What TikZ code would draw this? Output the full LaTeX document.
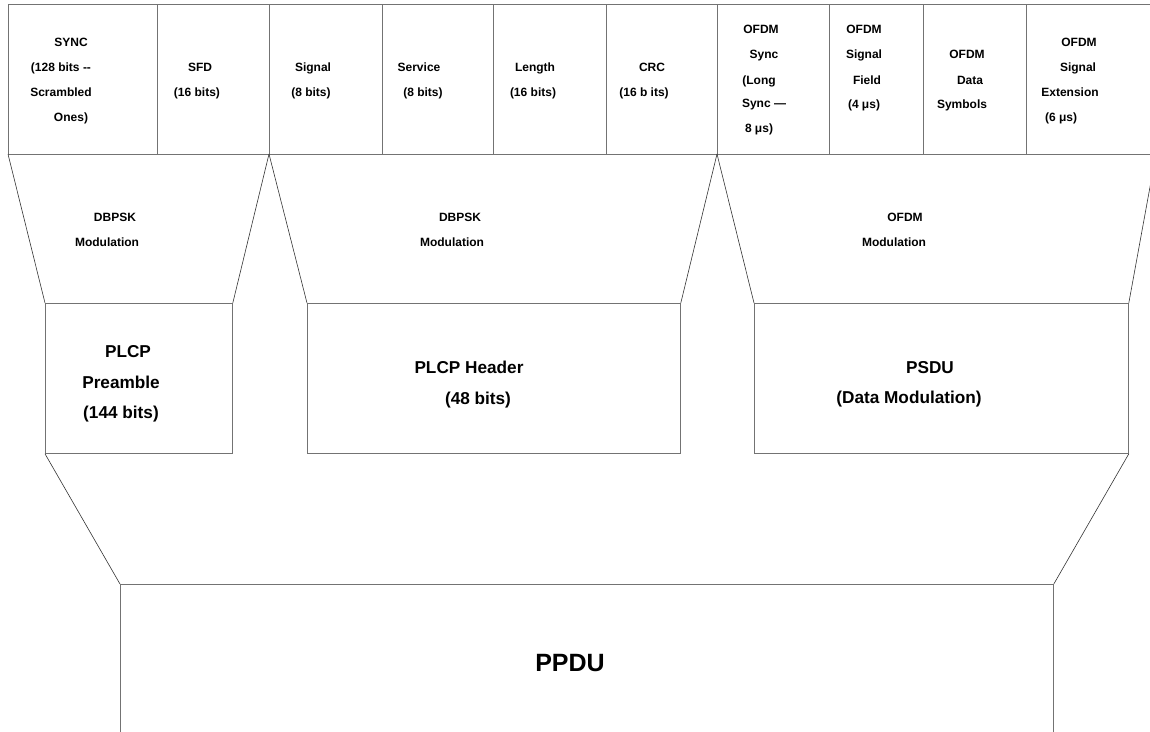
\documentclass[tikz,border=0pt]{standalone}
\usepackage{fontspec}
\setmainfont{Liberation Sans}
\usepackage{tikz}

\tikzset{
    cell/.style={draw=gray!90!black, line width=0.8pt},
    blk/.style={draw=gray!90!black, line width=0.8pt, rectangle, anchor=north west, inner sep=0pt},
    slant/.style={draw=black!80, line width=0.6pt},
    lbl/.style={anchor=base, inner sep=0pt, font=\fontsize{12}{14}\selectfont\bfseries, yshift=-4.3pt},
    big/.style={anchor=base, inner sep=0pt, font=\fontsize{17.2}{20}\selectfont\bfseries, yshift=-6.2pt},
    huge/.style={anchor=base, inner sep=0pt, font=\fontsize{25}{29}\selectfont\bfseries, yshift=-9pt}
}

\begin{document}
\begin{tikzpicture}[x=1pt,y=-1pt]
    \useasboundingbox (0,0) rectangle (1150,731);
    \clip (0,0) rectangle (1150,731);

    % top row of fields
    \draw[cell] (8,4) -- (1170,4);
    \draw[cell] (8,154) -- (1170,154);
    \foreach \xc in {8,157,269,382,493,606,717,829,923,1026}
        \draw[cell] (\xc,4) -- (\xc,154);
    \coordinate (c0) at (8,154);
    \coordinate (c1) at (269,154);
    \coordinate (c2) at (717,154);
    \coordinate (c3) at (1156,154);

    % middle blocks
    \node[blk, minimum width=187pt, minimum height=150pt] (pre) at (45,303) {};
    \node[blk, minimum width=373pt, minimum height=150pt] (hdr) at (307,303) {};
    \node[blk, minimum width=374pt, minimum height=150pt] (psdu) at (754,303) {};
    \node[blk, minimum width=933pt, minimum height=250pt] (ppdu) at (120,584) {};

    % slanted connectors
    \draw[slant] (c0) -- (pre.north west);
    \draw[slant] (c1) -- (pre.north east);
    \draw[slant] (c1) -- (hdr.north west);
    \draw[slant] (c2) -- (hdr.north east);
    \draw[slant] (c2) -- (psdu.north west);
    \draw[slant] (c3) -- (psdu.north east);
    \draw[slant] (pre.south west) -- (ppdu.north west);
    \draw[slant] (psdu.south east) -- (ppdu.north east);

    % field labels
    \foreach \xt/\yt/\txt [count=\i] in {
        71/42/SYNC, 61/67/{(128 bits -{}-}, 61/92/Scrambled, 71/117/{Ones)},
        200/67/SFD, 197/92/{(16 bits)},
        313/67/Signal, 311/92/{(8 bits)},
        419/67/Service, 423/92/{(8 bits)},
        535/67/Length, 533/92/{(16 bits)},
        652/67/CRC, 644/92/{(16 b its)},
        761/29/OFDM, 764/54/Sync, 759/80/{(Long}, 764/103/{Sync —}, 759/128/{8 μs)},
        864/29/OFDM, 864/54/Signal, 867/80/Field, 864/104/{(4 μs)},
        967/54/OFDM, 970/80/Data, 962/104/Symbols,
        1079/42/OFDM, 1078/67/Signal, 1070/92/Extension, 1061/117/{(6 μs)},
        115/217/DBPSK, 107/242/Modulation,
        460/217/DBPSK, 452/242/Modulation,
        905/217/OFDM, 894/242/Modulation}
        \node[lbl] (f\i) at (\xt,\yt) {\txt};

    % block labels
    \node[big] (pre1) at (128,351) {PLCP};
    \node[big] (pre2) at (121,382) {Preamble};
    \node[big] (pre3) at (121,412) {(144 bits)};
    \node[big] (hdr1) at (469,367) {PLCP Header};
    \node[big] (hdr2) at (478,398) {(48 bits)};
    \node[big] (psdu1) at (930,367) {PSDU};
    \node[big] (psdu2) at (909,397) {(Data Modulation)};
    \node[huge] (ppdu1) at (570,662) {PPDU};
\end{tikzpicture}
\end{document}
